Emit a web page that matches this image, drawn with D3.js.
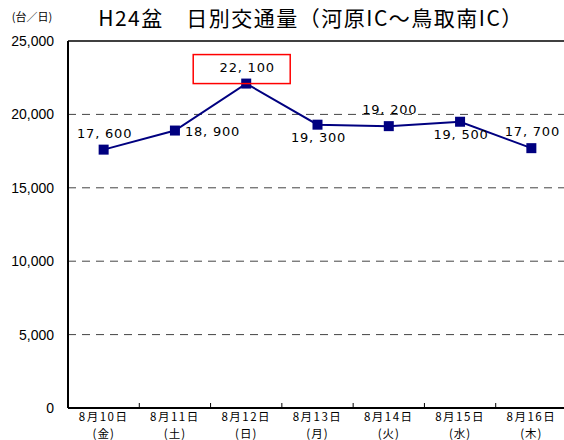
<!DOCTYPE html>
<html>
<head>
<meta charset="utf-8">
<script src="https://cdn.jsdelivr.net/npm/d3@7"></script>
<style>
  body { margin: 0; background: #fff; }
  svg { display: block; font-family: "Noto Sans CJK JP", "DejaVu Sans", sans-serif; }
</style>
</head>
<body>
<svg width="564" height="440"></svg>
<script>
const days = ['8月10日', '8月11日', '8月12日', '8月13日', '8月14日', '8月15日', '8月16日'];
const weekdays = ['(金)', '(土)', '(日)', '(月)', '(火)', '(水)', '(木)'];
const traffic = [17600, 18900, 22100, 19300, 19200, 19500, 17700];
// label side per point: a = above, r = right, b = below
const labelPos = ['a', 'r', 'a', 'b', 'a', 'b', 'a'];
const yTicks = [0, 5000, 10000, 15000, 20000, 25000];
const peakIndex = 2;

const svg = d3.select('svg');

const x = d3.scaleBand().domain(days).range([68, 567]);
const y = d3.scaleLinear().domain([0, 25000]).range([408, 41]);

// 破線グリッド
svg.append('g')
  .selectAll('line')
  .data(yTicks.filter(d => d > 0 && d < 25000))
  .enter().append('line')
  .attr('x1', 68).attr('x2', 564)
  .attr('y1', d => y(d)).attr('y2', d => y(d))
  .attr('stroke', '#444')
  .attr('stroke-width', 1)
  .attr('stroke-dasharray', '8,6');

// top border
svg.append('line')
  .attr('x1', 68).attr('x2', 564)
  .attr('y1', y(25000)).attr('y2', y(25000))
  .attr('stroke', '#000').attr('stroke-width', 1.5);

// y axis labels
svg.append('g')
  .selectAll('text')
  .data(yTicks)
  .enter().append('text')
  .attr('x', 54)
  .attr('y', d => y(d))
  .attr('dy', '0.35em')
  .attr('text-anchor', 'end')
  .attr('font-family', '"Liberation Sans", Arial, sans-serif')
  .attr('font-size', 14)
  .attr('fill', '#000')
  .text(d => d3.format(',')(d));

svg.append('text')
  .attr('x', 32).attr('y', 21)
  .attr('text-anchor', 'middle')
  .attr('font-size', 11)
  .text('(台／日)');

// 軸
svg.append('line')
  .attr('x1', 68).attr('x2', 68)
  .attr('y1', y(25000)).attr('y2', y(0))
  .attr('stroke', '#000').attr('stroke-width', 2);
svg.append('line')
  .attr('x1', 68).attr('x2', 564)
  .attr('y1', y(0)).attr('y2', y(0))
  .attr('stroke', '#000').attr('stroke-width', 2);

// x ticks (inside)
svg.append('g')
  .selectAll('line')
  .data(days.slice(1))
  .enter().append('line')
  .attr('x1', d => x(d)).attr('x2', d => x(d))
  .attr('y1', y(0)).attr('y2', y(0) - 5)
  .attr('stroke', '#000').attr('stroke-width', 1);

// x labels, two lines
const mid = d => x(d) + x.bandwidth() / 2;
svg.append('g')
  .selectAll('text')
  .data(days)
  .enter().append('text')
  .attr('x', mid).attr('y', 421)
  .attr('text-anchor', 'middle')
  .attr('font-size', 11.5)
  .attr('letter-spacing', 1.5)
  .text(d => d);
svg.append('g')
  .selectAll('text')
  .data(days)
  .enter().append('text')
  .attr('x', mid).attr('y', 438)
  .attr('text-anchor', 'middle')
  .attr('font-size', 11.5)
  .attr('letter-spacing', 1)
  .text((d, i) => weekdays[i]);

// line
const cx = (d, i) => mid(days[i]);
svg.append('path')
  .datum(traffic)
  .attr('fill', 'none')
  .attr('stroke', '#000080')
  .attr('stroke-width', 2)
  .attr('d', d3.line().x(cx).y(d => y(d)));

svg.append('g')
  .selectAll('rect')
  .data(traffic)
  .enter().append('rect')
  .attr('x', (d, i) => cx(d, i) - 5)
  .attr('y', d => y(d) - 5)
  .attr('width', 10).attr('height', 10)
  .attr('fill', '#000080');

// 値ラベル
const fmt = d => d3.format(',')(d).replace(',', ', ');
svg.append('g')
  .selectAll('text')
  .data(traffic)
  .enter().append('text')
  .attr('x', (d, i) => labelPos[i] === 'r' ? cx(d, i) + 10 : cx(d, i) + 1)
  .attr('y', (d, i) => {
    if (labelPos[i] === 'a') return y(d) - 12;
    if (labelPos[i] === 'b') return y(d) + 17;
    return y(d) + 5;
  })
  .attr('text-anchor', (d, i) => labelPos[i] === 'r' ? 'start' : 'middle')
  .attr('font-family', '"DejaVu Sans", sans-serif')
  .attr('font-size', 13)
  .attr('letter-spacing', 0.8)
  .text(fmt);

// peak box
svg.append('rect')
  .attr('x', cx(traffic[peakIndex], peakIndex) - 53)
  .attr('y', y(traffic[peakIndex]) - 29)
  .attr('width', 97).attr('height', 29)
  .attr('fill', 'none')
  .attr('stroke', '#ff0000')
  .attr('stroke-width', 1.5);

// タイトル
svg.append('text')
  .attr('x', 311).attr('y', 26)
  .attr('text-anchor', 'middle')
  .attr('font-size', 21)
  .attr('letter-spacing', 1.5)
  .text('H24盆　日別交通量（河原IC～鳥取南IC）');
</script>
</body>
</html>
